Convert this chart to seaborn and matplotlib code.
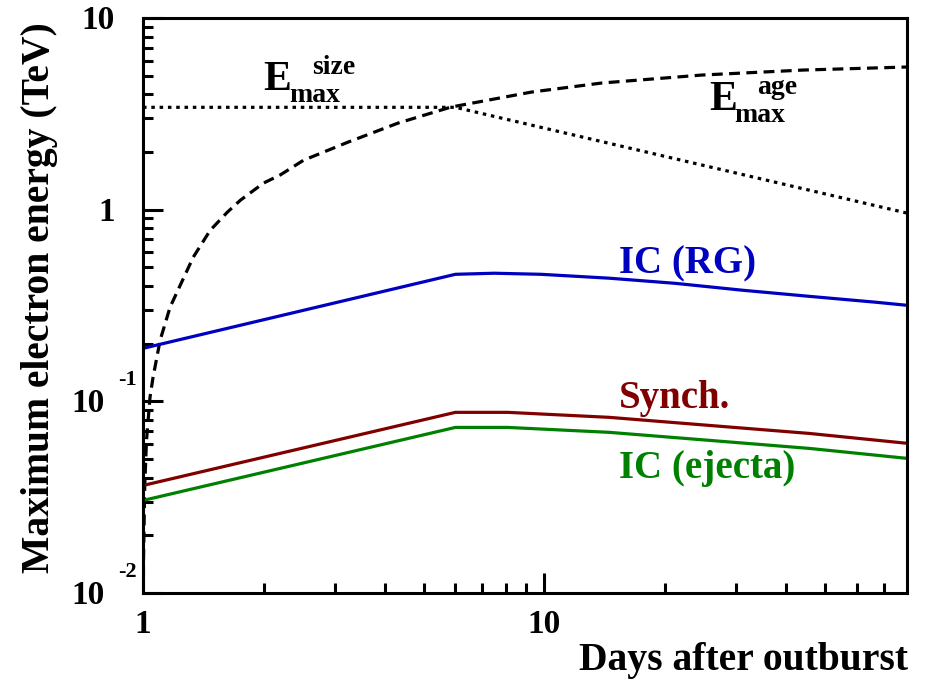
import matplotlib
matplotlib.use("Agg")
import matplotlib.pyplot as plt
import matplotlib.transforms as mtransforms
from matplotlib.ticker import FixedLocator, FixedFormatter, NullFormatter
import seaborn as sns

# Maximum electron energy (TeV) versus days after the outburst
size_days = [1.0, 6.0, 80.0]
size_emax = [3.42, 3.42, 0.96]

age_days = [1.001, 1.003, 1.01, 1.02, 1.041, 1.059, 1.103, 1.168, 1.334, 1.47,
            1.622, 1.748, 1.995, 2.2, 2.51, 3.24, 4.32, 5.85, 9.3, 13.9, 24.7,
            44.0, 80.0]
age_emax = [0.0065, 0.015, 0.036, 0.062, 0.105, 0.133, 0.208, 0.31, 0.565, 0.78,
            0.97, 1.12, 1.375, 1.52, 1.81, 2.25, 2.83, 3.43, 4.11, 4.58, 5.04,
            5.35, 5.55]

rg_days = [1.0, 6.0, 7.5, 9.8, 14.5, 21.1, 31.1, 45.7, 66.8, 80.0]
rg_emax = [0.189, 0.46, 0.466, 0.46, 0.439, 0.413, 0.38, 0.353, 0.329, 0.317]

syn_days = [1.0, 6.0, 8.1, 14.5, 25.7, 45.7, 80.0]
syn_emax = [0.0364, 0.0876, 0.0876, 0.0825, 0.0749, 0.068, 0.0604]

ej_days = [1.0, 6.0, 8.1, 14.5, 25.7, 45.7, 80.0]
ej_emax = [0.0304, 0.0731, 0.0731, 0.0689, 0.0626, 0.0568, 0.0504]

x_major = [1, 10]
x_major_labels = ["1", "10"]
x_minor = [2, 3, 4, 5, 6, 7, 8, 9, 20, 30, 40, 50, 60, 70]
y_major = [0.01, 0.1, 1, 10]
y_minor = [m * d for d in (0.01, 0.1, 1) for m in range(2, 10)]

BLUE = "#0000C0"
RED = "#800000"
GREEN = "#008000"
LW = 2.3

sns.set_theme(style="white")
plt.rcParams["font.family"] = ["Liberation Serif", "DejaVu Serif"]
plt.rcParams["font.weight"] = "bold"

fig = plt.figure(figsize=(9.29, 6.91), dpi=100)
ax = fig.add_axes([143 / 929, 1 - 593 / 691, 764 / 929, 575 / 691])
ax.set_xscale("log")
ax.set_yscale("log")


def curve(days, emax, color, dashes=None):
    sns.lineplot(x=days, y=emax, ax=ax, color=color, lw=LW,
                 estimator=None, sort=False)
    line = ax.lines[-1]
    line.set_solid_capstyle("butt")
    if dashes is not None:
        line.set_dashes(dashes)
        line.set_dash_capstyle("butt")


curve(size_days, size_emax, "black", dashes=(1.1, 1.5))
curve(age_days, age_emax, "black", dashes=(3.4, 2.0))
curve(rg_days, rg_emax, BLUE)
curve(syn_days, syn_emax, RED)
curve(ej_days, ej_emax, GREEN)

ax.set_xlim(1, 80)
ax.set_ylim(0.01, 10)

# axes frame and ticks
for sp in ax.spines.values():
    sp.set_linewidth(2.2)
    sp.set_color("black")
    sp.set_visible(True)
ax.xaxis.set_major_locator(FixedLocator(x_major))
ax.xaxis.set_major_formatter(FixedFormatter(x_major_labels))
ax.xaxis.set_minor_locator(FixedLocator(x_minor))
ax.xaxis.set_minor_formatter(NullFormatter())
ax.yaxis.set_major_locator(FixedLocator(y_major))
ax.yaxis.set_major_formatter(NullFormatter())
ax.yaxis.set_minor_locator(FixedLocator(y_minor))
ax.yaxis.set_minor_formatter(NullFormatter())
ax.tick_params(which="both", direction="in", top=False, right=False,
               left=True, bottom=True, width=2.2, color="black")
ax.tick_params(which="major", length=14.4)
ax.tick_params(which="minor", length=7.2)
ax.tick_params(axis="x", which="major", pad=11.5, labelsize=24,
               labelcolor="black")
for lab in ax.get_xticklabels():
    lab.set_fontweight("bold")
ax.grid(False)
ax.set_xlabel("")
ax.set_ylabel("")

# y tick labels written as 10 with a raised exponent
ytrans = mtransforms.blended_transform_factory(ax.transAxes, ax.transData)
PX = 0.72  # points per pixel at 100 dpi
for v, base, expo in [(10, "10", None), (1, "1", None),
                      (0.1, "10", "-1"), (0.01, "10", "-2")]:
    dx = -28 if expo is None else -38
    ax.annotate(base, xy=(0, v), xycoords=ytrans, xytext=(dx * PX, -11 * PX),
                textcoords="offset points", ha="right", va="baseline",
                fontsize=24, fontweight="bold", color="black",
                annotation_clip=False)
    if expo is not None:
        ax.annotate(expo, xy=(0, v), xycoords=ytrans,
                    xytext=(-25 * PX, 16 * PX), textcoords="offset points",
                    ha="left", va="baseline", fontsize=16, fontweight="bold",
                    color="black", annotation_clip=False)

# axis titles
fig.text(908 / 929, 1 - 670 / 691, "Days after outburst", ha="right",
         va="baseline", fontsize=28.5, fontweight="bold", color="black")
fig.text(40 / 929, 1 - 22 / 691, "Maximum electron energy (TeV)", rotation=90,
         ha="center", va="top", fontsize=28.5, fontweight="bold", color="black")

# curve labels
ax.text(15.3, 0.466, "IC (RG)", color=BLUE, fontsize=28, fontweight="bold",
        ha="left", va="baseline")
ax.text(15.3, 0.0919, "Synch.", color=RED, fontsize=28, fontweight="bold",
        ha="left", va="baseline")
ax.text(15.3, 0.0396, "IC (ejecta)", color=GREEN, fontsize=28,
        fontweight="bold", ha="left", va="baseline")


def emax_label(t, e, sup, sub_dx, sup_dx):
    ax.text(t, e, "E", fontsize=30, fontweight="bold", ha="left",
            va="baseline", color="black")
    ax.annotate("max", xy=(t, e), xytext=(sub_dx * PX, -12 * PX),
                textcoords="offset points", fontsize=20, fontweight="bold",
                ha="left", va="baseline", color="black")
    ax.annotate(sup, xy=(t, e), xytext=(sup_dx * PX, 16 * PX),
                textcoords="offset points", fontsize=20, fontweight="bold",
                ha="left", va="baseline", color="black")


emax_label(1.995, 4.21, "size", 26, 49)
emax_label(25.7, 3.31, "age", 25, 48)

fig.savefig("out.png", dpi=100, facecolor="white")
